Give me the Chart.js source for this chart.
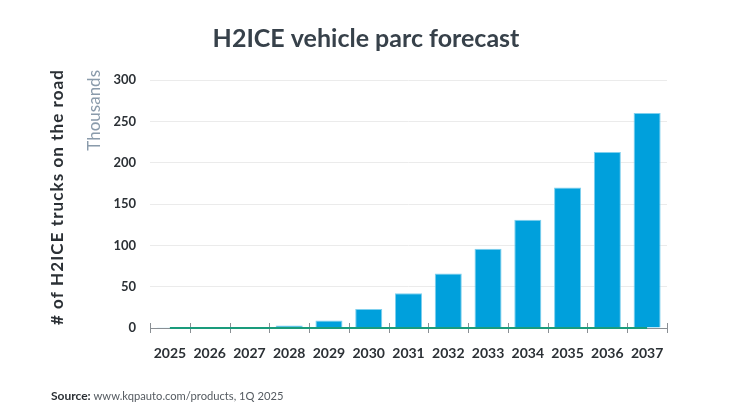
<!DOCTYPE html>
<html>
<head>
<meta charset="utf-8">
<script src="https://cdn.jsdelivr.net/npm/chart.js@4"></script>
<style>
html,body{margin:0;padding:0;background:#fff;}
#wrap{width:730px;height:411px;position:relative;}
</style>
</head>
<body>
<div id="wrap"><canvas id="c" width="730" height="411"></canvas></div>
<script>
const years = ['2025','2026','2027','2028','2029','2030','2031','2032','2033','2034','2035','2036','2037'];
const trucksThousands = [0.2, 0.3, 0.4, 3, 9, 23, 42, 66, 96, 131, 170, 213, 260];
const baselineSeries = [0,0,0,0,0,0,0,0,0,0,0,0,0];
const yTicks = [0, 50, 100, 150, 200, 250, 300];
const titleText = 'H2ICE vehicle parc forecast';
const yTitle = '# of H2ICE trucks on the road';
const yUnit = 'Thousands';
const sourceLabel = 'Source:';
const sourceText = ' www.kqpauto.com/products, 1Q 2025';

const FONT = 'Lato';

const decor = {
  id: 'decor',
  afterDraw(chart) {
    const ctx = chart.ctx;
    const xs = chart.scales.x;
    const ca = chart.chartArea;
    ctx.save();
    ctx.strokeStyle = '#8a8f94';
    ctx.lineWidth = 1;
    ctx.beginPath();
    ctx.moveTo(ca.left, ca.bottom + 0.5);
    ctx.lineTo(ca.right, ca.bottom + 0.5);
    ctx.stroke();
    for (let i = 0; i <= years.length; i++) {
      const x = Math.round(xs.getPixelForValue(i - 0.5)) + 0.5;
      ctx.beginPath();
      ctx.moveTo(x, ca.bottom - 5);
      ctx.lineTo(x, ca.bottom + 5);
      ctx.stroke();
    }
    const meta = chart.getDatasetMeta(1);
    ctx.strokeStyle = '#1a9c7c';
    ctx.lineWidth = 2;
    ctx.beginPath();
    meta.data.forEach((p, i) => { if (i === 0) ctx.moveTo(p.x, p.y); else ctx.lineTo(p.x, p.y); });
    ctx.stroke();
    ctx.restore();

    ctx.save();
    ctx.fillStyle = '#37414a';
    ctx.font = 'bold 25px ' + FONT;
    ctx.textAlign = 'center';
    ctx.textBaseline = 'middle';
    ctx.fillText(titleText, 366, 39);
    ctx.save();
    ctx.translate(58, 197);
    ctx.rotate(-Math.PI / 2);
    ctx.font = 'bold 17px ' + FONT;
    ctx.fillStyle = '#2b3035';
    const w = ctx.measureText(yTitle).width;
    const target = 255;
    const ls = (target - w) / (yTitle.length - 1);
    ctx.letterSpacing = ls + 'px';
    ctx.textAlign = 'center';
    ctx.fillText(yTitle, 0, 0);
    ctx.restore();
    ctx.save();
    ctx.translate(95, 70);
    ctx.rotate(-Math.PI / 2);
    ctx.font = '17px ' + FONT;
    ctx.fillStyle = '#8a9bab';
    ctx.textAlign = 'right';
    ctx.textBaseline = 'middle';
    ctx.fillText(yUnit, 0, 0);
    ctx.restore();
    ctx.textAlign = 'left';
    ctx.textBaseline = 'middle';
    ctx.font = 'bold 12px ' + FONT;
    ctx.fillStyle = '#2b3035';
    ctx.fillText(sourceLabel, 51, 396);
    const sw = ctx.measureText(sourceLabel).width;
    ctx.font = '11.2px ' + FONT;
    ctx.fillStyle = '#555b61';
    ctx.fillText(sourceText, 51 + sw, 396);
    ctx.restore();
  }
};

new Chart(document.getElementById('c'), {
  data: {
    labels: years,
    datasets: [
      {
        type: 'bar',
        label: 'H2ICE trucks',
        data: trucksThousands,
        backgroundColor: '#00a0dc',
        borderColor: '#7fd0ee',
        borderWidth: {top: 1, left: 1, right: 1, bottom: 0},
        borderSkipped: 'bottom',
        barPercentage: 0.68,
        categoryPercentage: 1.0,
        order: 2
      },
      {
        type: 'line',
        label: 'baseline',
        data: baselineSeries,
        borderColor: 'rgba(0,0,0,0)',
        pointRadius: 0,
        order: 1
      }
    ]
  },
  options: {
    responsive: false,
    animation: false,
    devicePixelRatio: 1,
    layout: { padding: { left: 0, right: 63, top: 80, bottom: 0 } },
    plugins: { legend: { display: false }, tooltip: { enabled: false }, title: { display: false } },
    scales: {
      x: {
        offset: true,
        grid: { display: false, drawTicks: false },
        border: { display: false },
        ticks: { color: '#2b3035', font: { family: FONT, size: 14, weight: 'bold' }, padding: 17, maxRotation: 0, autoSkip: false },
        afterFit(s) { s.height = 83; }
      },
      y: {
        min: 0, max: 300,
        afterBuildTicks(s) { s.ticks = yTicks.map(v => ({ value: v })); },
        grid: {
          color: (c) => c.tick && c.tick.value === 0 ? 'rgba(0,0,0,0)' : '#ebebeb',
          drawTicks: false
        },
        border: { display: false },
        ticks: { color: '#2b3035', font: { family: FONT, size: 13, weight: 'bold' }, padding: 14 },
        afterFit(s) { s.width = 150; }
      }
    }
  },
  plugins: [decor]
});
</script>
</body>
</html>
